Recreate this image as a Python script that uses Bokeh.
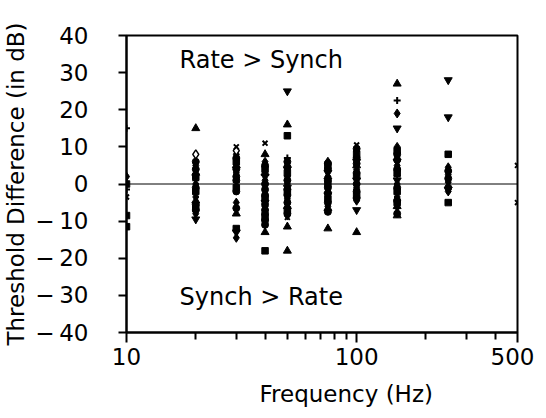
from bokeh.plotting import figure
from bokeh.models import FixedTicker, Span, Label, Title
from bokeh.embed import file_html
from bokeh.resources import INLINE

# ---- data (frequency in Hz, threshold difference in dB) ----
tri_up_freq = [20, 20, 20, 30, 30, 40, 40, 40, 50, 50, 50, 50, 75, 75, 75, 100, 100, 150, 150, 150]
tri_up_diff = [15, 3, -4.5, 5, -8, 8, -13, 3, 16, -11.5, -18, -6, -12, 2, -6.5, -13, 5, 27, -6, -8.5]

tri_dn_freq = [20, 30, 40, 40, 50, 50, 50, 75, 75, 100, 100, 100, 150, 150, 150, 250, 250, 250]
tri_dn_diff = [-9.5, -13, 2, -5, 25, 4, -1, 3, -3, -7, 6, 1, 15, 6, 1, 28, 18, -1.5]

sq_freq = [10, 10, 10, 20, 20, 20, 30, 30, 30, 40, 40, 40, 40, 50, 50, 50, 50, 75, 75, 75,
           100, 100, 100, 150, 150, 150, 150, 250, 250]
sq_diff = [0, -8.5, -11.5, 2, -2, -6.5, 6, -1, -12, -18, 4, -4, -9, 13, 3, -2, -7, 5, 0, -4,
           8, 2, -3, 9, 3, -2, -5, 8, -5]

dia_freq = [10, 20, 20, 20, 20, 30, 30, 30, 30, 40, 40, 40, 40, 50, 50, 50, 50, 75, 75, 75, 75,
            100, 100, 100, 100, 150, 150, 150, 150, 150, 250, 250, 250, 250]
dia_diff = [2, 5, 0, -3.5, -8, 8, 3, -5, -14.5, 6, 1, -6, -10.5, 5, 0, -4, -8.5, 6, 2, -2, -6,
            9, 4, -1, -4.5, 19, 10, 5, 0, -3.5, 4.5, 2.5, 0.5, -2]

circ_freq = [20, 20, 20, 20, 20, 30, 30, 30, 30, 30, 30, 40, 40, 40, 40, 40, 40, 40, 40, 40,
             50, 50, 50, 50, 50, 50, 50, 75, 75, 75, 75, 75, 75, 75,
             100, 100, 100, 100, 100, 100, 100, 150, 150, 150, 150, 150, 150, 250, 250, 250]
circ_diff = [4, -1, -7, 6, -5.5, 7, 2, -2, -6.5, 4, 1, 5, 0, -3, -8, -11, -1.5, -5.5, -7, -9.8,
             6, 1, -3, -5, 4.5, -1.5, -8, 4, -1, -5, -7.5, 1, -2.5, 5.5,
             7, 3, 0, -2, 9.5, 5.5, -3.8, 8, 4, -1, -8, 6.5, -4.5, 3.5, 1.5, -1]

open_freq = [20, 30]
open_diff = [8, 9]

x_freq = [10, 30, 40, 40, 50, 75, 100, 100, 150, 150, 500, 500]
x_diff = [-3.5, 10, 11, -2, -9, 1, 10.5, -3.5, 7, -7, 5, -5]

plus_freq = [10, 10, 20, 30, 50, 50, 100, 150, 150]
plus_diff = [15, -1.5, 1, 0.5, 7, 2, -1.5, 22.5, 2]

y_ticks = [-40, -30, -20, -10, 0, 10, 20, 30, 40]
y_tick_labels = {-40: "\u2212\u200940", -30: "\u2212\u200930", -20: "\u2212\u200920",
                 -10: "\u2212\u200910", 0: "0", 10: "10", 20: "20", 30: "30", 40: "40"}
x_ticks = [10, 100, 500]
x_minor = [20, 30, 40, 50, 60, 70, 80, 90, 200, 300, 400]

FONT = "DejaVu Sans"

p = figure(x_axis_type="log", x_range=(10, 500), y_range=(-40, 40),
           frame_width=391, frame_height=297,
           min_border_left=122, min_border_right=17, min_border_top=35, min_border_bottom=20,
           output_backend="svg", toolbar_location=None)

p.grid.visible = False
p.outline_line_color = "black"
p.outline_line_width = 2
p.background_fill_color = "white"
p.border_fill_color = "white"

# axes
p.xaxis.ticker = FixedTicker(ticks=x_ticks, minor_ticks=x_minor)
p.xaxis.major_label_overrides = {10: "10", 100: "100", 500: "500"}
p.xaxis.axis_line_width = 2
p.xaxis.major_tick_in = 0
p.xaxis.major_tick_out = 10
p.xaxis.minor_tick_in = 0
p.xaxis.minor_tick_out = 7
p.xaxis.major_tick_line_width = 2
p.xaxis.minor_tick_line_width = 2
p.xaxis.major_label_standoff = 5
p.xaxis.major_label_text_font = FONT
p.xaxis.major_label_text_font_size = "23px"
p.xaxis.major_label_text_color = "black"

p.yaxis.ticker = FixedTicker(ticks=y_ticks, minor_ticks=[])
p.yaxis.major_label_overrides = y_tick_labels
p.yaxis.axis_line_width = 2
p.yaxis.major_tick_in = 0
p.yaxis.major_tick_out = 8
p.yaxis.major_tick_line_width = 2
p.yaxis.major_label_standoff = 30
p.yaxis.major_label_text_font = FONT
p.yaxis.major_label_text_font_size = "23px"
p.yaxis.major_label_text_color = "black"
p.yaxis.axis_label = "Threshold Difference (in dB)"
p.yaxis.axis_label_text_font = FONT
p.yaxis.axis_label_text_font_size = "23px"
p.yaxis.axis_label_text_font_style = "normal"
p.yaxis.axis_label_text_color = "black"
p.yaxis.axis_label_standoff = 3

# x axis title (slightly right of centre, as in the original)
p.add_layout(Title(text="Frequency (Hz)", align="left", offset=133, standoff=23,
                   text_font=FONT, text_font_size="23px", text_font_style="normal",
                   text_color="black"), "below")

# zero line
p.add_layout(Span(location=0, dimension="width", line_color="black", line_width=1))

# region texts
p.add_layout(Label(x=17, y=33.5, text="Rate > Synch", text_font=FONT, text_color="black",
                   text_font_size="24px", text_align="left", text_baseline="middle"))
p.add_layout(Label(x=17, y=-30.5, text="Synch > Rate", text_font=FONT, text_color="black",
                   text_font_size="24px", text_align="left", text_baseline="middle"))

S = 8
p.scatter(tri_up_freq, tri_up_diff, marker="triangle", size=S, color="black")
p.scatter(tri_dn_freq, tri_dn_diff, marker="inverted_triangle", size=S, color="black")
p.scatter(sq_freq, sq_diff, marker="square", size=S - 1.5, color="black")
p.scatter(dia_freq, dia_diff, marker="diamond", size=S + 1, color="black")
p.scatter(circ_freq, circ_diff, marker="circle", size=S - 1, color="black")
p.scatter(open_freq, open_diff, marker="diamond", size=S + 1, line_color="black",
          fill_color="white", line_width=1.5)
p.scatter(x_freq, x_diff, marker="x", size=S - 1, line_color="black", line_width=2)
p.scatter(plus_freq, plus_diff, marker="cross", size=S - 1, line_color="black", line_width=2)

open("out.html", "w").write(file_html(p, INLINE))
